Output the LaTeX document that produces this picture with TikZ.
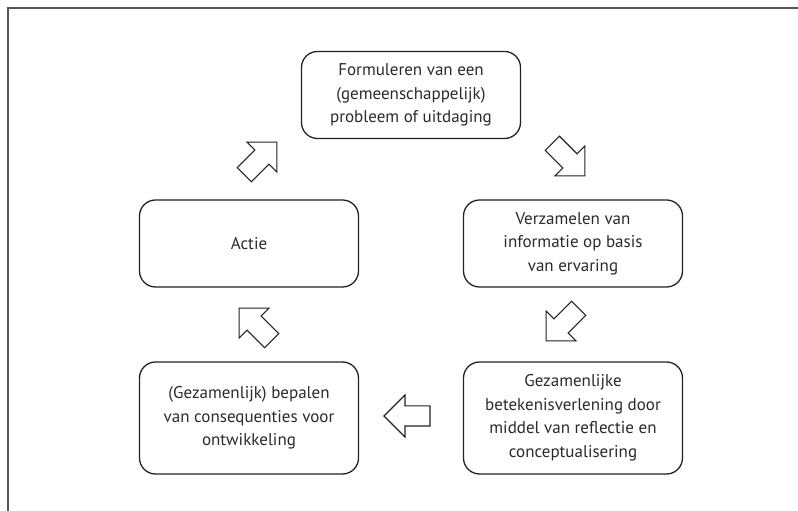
\documentclass[tikz,border=0pt]{standalone}
\usepackage{fontspec}
\setmainfont{PT Sans}
\usetikzlibrary{positioning, shapes.arrows}
\definecolor{ink}{HTML}{222222}
\definecolor{txt}{HTML}{2a2a2a}
\definecolor{framegray}{HTML}{555555}
\begin{document}
\begin{tikzpicture}[x=1pt,y=1pt,
  stap/.style={draw=ink, line width=1.3pt, rounded corners=16pt, minimum width=219pt, minimum height=87pt, align=center, font=\fontsize{17}{23.5}\selectfont, text=txt, inner sep=0pt},
  hoog/.style={minimum height=112pt},
  pijl/.style={draw=ink, line width=1.1pt, shape=single arrow, single arrow head extend=11pt, minimum height=46pt, inner xsep=0pt, inner ysep=9.5pt}]
\useasboundingbox (0,0) rectangle (798,511);
\draw[framegray, line width=1.2pt] (8,0) -- (8,503) -- (798,503);
% de vijf stappen
\node[stap] (formuleren) at (411,416) {Formuleren van een\\(gemeenschappelijk)\\probleem of uitdaging};
\node[stap] (actie) at (249,267.5) {Actie};
\node[stap] (verzamelen) at (573,267.5) {Verzamelen van\\informatie op basis\\van ervaring};
\node[stap, hoog] (bepalen) at (249,93) {(Gezamenlijk) bepalen\\van consequenties voor\\ontwikkeling};
\node[stap, hoog] (betekenis) at (573,93) {Gezamenlijke\\betekenisverlening door\\middel van reflectie en\\conceptualisering};
% pijlen van de cyclus
\node[pijl, rotate=-45] (p1) at (565,355) {};
\node[pijl, rotate=-135] (p2) at (566,190) {};
\node[pijl, rotate=180] (p3) at (412,95) {};
\node[pijl, rotate=135] (p4) at (259,183) {};
\node[pijl, rotate=45] (p5) at (257,349) {};
\end{tikzpicture}
\end{document}
